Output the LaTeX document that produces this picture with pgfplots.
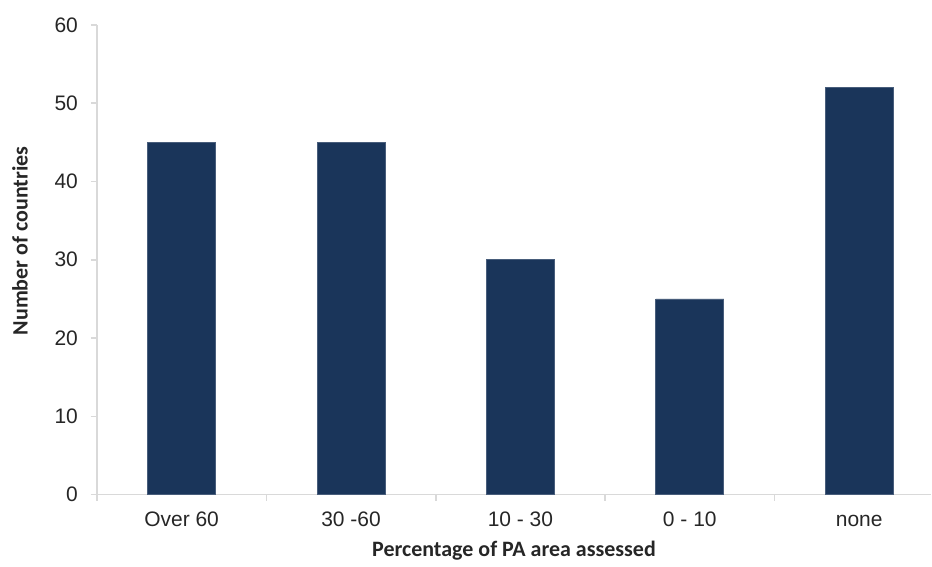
\documentclass[border=0pt]{standalone}
\usepackage{pgfplots}
\pgfplotsset{compat=1.18}
\usepackage{fontspec}
\setmainfont{Liberation Sans}
\newfontfamily\calibri{Carlito}
\definecolor{barblue}{HTML}{1A355A}
\definecolor{axgray}{HTML}{D9D9D9}
\begin{document}
\begin{tikzpicture}
\begin{axis}[
  scale only axis,
  width=417.5pt, height=235pt,
  xmin=-0.5, xmax=4.425,
  ymin=0, ymax=60,
  ytick={0,10,...,60},
  xtick={-0.5,0.5,1.5,2.5,3.5},
  xticklabels={},
  extra x ticks={0,1,2,3,4},
  extra x tick labels={Over 60,30 -60,10 - 30,0 - 10,none},
  extra x tick style={major tick length=0pt},
  axis x line*=bottom,
  axis y line*=left,
  axis line style={draw=axgray, line width=0.8pt},
  x axis line style={-},
  y axis line style={-},
  major tick style={draw=axgray, line width=0.8pt},
  major tick length=3pt,
  tick align=outside,
  ticklabel style={font=\fontsize{10.5}{12}\selectfont, text=black!85},
  yticklabel style={xshift=-3pt},
  xticklabel style={yshift=-4pt, text height=1.6ex, text depth=0.3ex},
  /pgf/number format/assume math mode=true,
  ybar, bar width=34pt,
  ylabel={\calibri\bfseries Number of countries},
  xlabel={\calibri\bfseries Percentage of PA area assessed},
  label style={font=\fontsize{11}{13}\selectfont, text=black!85},
  ylabel style={at={(rel axis cs:-0.0922,0.54)}, anchor=center},
  xlabel style={at={(rel axis cs:0.5,-0.119)}, anchor=center},
  clip=false,
]
\addplot[fill=barblue, draw=barblue!80!white, bar shift=0pt] coordinates {(0,45) (1,45) (2,30) (3,25) (4,52)};
\end{axis}
\useasboundingbox (-48.5pt,-34pt) rectangle (417.5pt,247.5pt);
\end{tikzpicture}
\end{document}
